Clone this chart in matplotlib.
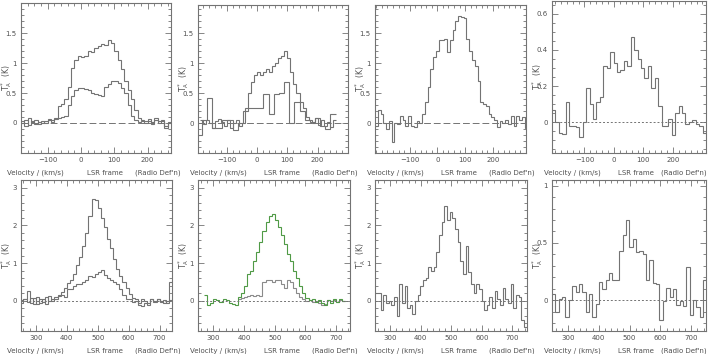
import numpy as np
import matplotlib
matplotlib.use("Agg")
import matplotlib.pyplot as plt
from matplotlib.ticker import MultipleLocator, FuncFormatter

W, H = 709, 354
GREY = '#737373'
TXT = '#505050'
FS = 5

# ---- panel 1 (top row, two spectra, 10 km/s channels)
p1_v0, p1_dv = -180, 10
p1_hi = [0.03, -0.05, 0.08, 0.02, 0.05, -0.02, 0.04, 0.0, 0.06, 0.05, 0.08, 0.28, 0.32, 0.40,
         0.60, 0.92, 1.05, 1.12, 1.10, 1.12, 1.20, 1.18, 1.25, 1.28, 1.32, 1.30, 1.38, 1.33,
         1.20, 1.05, 0.90, 0.70, 0.55, 0.40, 0.22, 0.08, 0.05, 0.03, 0.06, 0.02, 0.08, 0.03,
         0.05, -0.05, 0.02]
p1_lo = [0.0, 0.05, -0.03, 0.03, -0.02, 0.02, 0.0, 0.03, 0.05, 0.02, 0.06, 0.08, 0.10, 0.12,
         0.30, 0.45, 0.55, 0.58, 0.58, 0.56, 0.55, 0.50, 0.48, 0.46, 0.45, 0.60, 0.65, 0.70,
         0.70, 0.66, 0.58, 0.50, 0.30, 0.12, 0.05, 0.02, 0.04, 0.0, 0.03, -0.02, 0.05, 0.0,
         0.04, -0.08, 0.0]

# ---- panel 2
p2_hi_v0, p2_hi_dv = -190, 10
p2_hi = [0.05, -0.02, 0.05, 0.0, -0.08, 0.03, 0.06, 0.02, -0.05, 0.05, -0.08, 0.0, 0.05, -0.05,
         0.0, 0.25, 0.50, 0.68, 0.80, 0.85, 0.80, 0.86, 0.90, 0.85, 0.95, 1.00, 1.08, 1.12,
         1.20, 1.08, 0.86, 0.65, 0.50, 0.35, 0.25, 0.10, 0.05, 0.0, 0.08, -0.03, 0.05, -0.05,
         0.02, -0.06, 0.05]
p2_lo_v0, p2_lo_dv = -200, 17
p2_lo = [-0.20, 0.05, 0.42, -0.08, -0.08, 0.05, 0.05, -0.12, 0.0, 0.20, 0.25, 0.25, 0.25, 0.48,
         0.15, 0.48, 0.50, 0.68, 0.0, 0.35, 0.20, 0.05, 0.02, 0.08, -0.05, -0.10, 0.15]

# ---- panel 3
p3_v0, p3_dv = -225, 10
p3 = [-0.05, 0.22, 0.15, 0.0, -0.10, 0.03, -0.32, 0.0, -0.02, 0.12, 0.05, -0.05, 0.12, -0.05,
      -0.07, 0.03, 0.0, 0.15, 0.35, 0.60, 0.90, 1.10, 1.20, 1.38, 1.38, 1.40, 1.18, 1.38,
      1.55, 1.70, 1.78, 1.77, 1.76, 1.40, 1.20, 1.05, 0.95, 0.70, 0.35, 0.32, 0.28, 0.15,
      0.10, 0.05, -0.07, 0.03, 0.0, 0.05, -0.02, 0.12, -0.05, 0.12, 0.05, 0.10, -0.08]

# ---- panel 4
p4_v0, p4_dv = -210, 11.6
p4 = [0.07, 0.0, -0.06, -0.065, 0.11, -0.02, -0.02, -0.025, -0.08, 0.0, 0.19, 0.10, 0.02,
      0.11, 0.14, 0.31, 0.30, 0.39, 0.33, 0.28, 0.29, 0.34, 0.31, 0.47, 0.40, 0.35, 0.30,
      0.245, 0.31, 0.19, 0.245, 0.09, -0.02, -0.02, 0.02, -0.07, 0.05, 0.09, 0.05, -0.01,
      0.0, 0.015, -0.01, -0.02, -0.06]

# ---- panel 5
p5_v0, p5_dv = 250, 10
p5_hi = [0.02, 0.05, 0.25, -0.05, 0.08, -0.08, 0.05, -0.02, 0.10, 0.0, 0.05, 0.10, 0.15, 0.22,
         0.35, 0.48, 0.55, 0.72, 0.95, 1.15, 1.45, 1.80, 2.25, 2.70, 2.68, 2.45, 2.20, 1.95,
         1.65, 1.40, 1.10, 0.85, 0.65, 0.50, 0.35, 0.18, 0.08, 0.05, -0.05, 0.05, 0.0, -0.06,
         0.04, 0.0, 0.06, -0.04, 0.03, -0.05, 0.02]
p5_lo = [-0.05, 0.05, -0.02, 0.08, -0.08, 0.10, -0.05, 0.05, -0.08, 0.12, 0.0, 0.05, 0.12, 0.15,
         0.10, 0.30, 0.32, 0.40, 0.45, 0.45, 0.50, 0.55, 0.65, 0.62, 0.70, 0.75, 0.82, 0.68,
         0.60, 0.55, 0.50, 0.45, 0.30, 0.15, 0.05, 0.05, -0.02, 0.0, -0.10, -0.15, -0.05,
         -0.12, 0.05, -0.02, 0.06, 0.0, -0.05, 0.0, 0.50]

# ---- panel 6 (green overlaid spectrum plus grey)
p6_hi_v0, p6_hi_dv = 270, 10
p6_hi = [0.15, -0.10, -0.05, 0.05, 0.03, -0.02, 0.05, 0.02, -0.05, -0.08, -0.12, 0.10, 0.20,
         0.40, 0.70, 0.80, 1.05, 1.30, 1.55, 1.85, 2.10, 2.25, 2.30, 2.15, 1.95, 1.75, 1.50,
         1.25, 1.05, 0.80, 0.60, 0.38, 0.20, 0.08, 0.02, 0.05, -0.03, 0.03, -0.05, -0.10,
         0.02, -0.05, 0.05, -0.02, 0.06, 0.0]
p6_lo_v0, p6_lo_dv = 380, 10
p6_lo = [0.05, 0.08, 0.10, 0.12, 0.15, 0.12, 0.15, 0.12, 0.50, 0.55, 0.55, 0.50, 0.55, 0.55,
         0.45, 0.35, 0.55, 0.50, 0.35, 0.20, 0.10, 0.05, 0.0, 0.02, -0.02, 0.0, -0.05, -0.10,
         -0.08, 0.02, 0.0, 0.03, -0.02, 0.02, 0.0]

# ---- panel 7
p7_v0, p7_dv = 251, 8.7
p7 = [0.2, 0.2, -0.25, 0.15, -0.05, 0.0, -0.1, 0.1, -0.4, 0.45, -0.05, 0.4, -0.2, -0.1, -0.35,
      0.0, 0.15, 0.4, 0.55, 0.6, 0.9, 0.8, 0.9, 1.3, 1.75, 2.1, 2.5, 2.15, 2.35, 2.2, 1.9,
      1.55, 1.05, 0.7, 1.45, 0.75, 0.45, 0.2, 0.45, 0.3, 0.0, -0.25, -0.1, 0.1, -0.2, 0.25,
      0.05, -0.1, 0.35, 0.05, -0.05, 0.45, -0.2, 0.15, 0.1, -0.5, -0.7]

# ---- panel 8
p8_v0, p8_dv = 248, 10.9
p8 = [0.05, -0.10, 0.01, 0.03, -0.15, 0.0, 0.12, 0.07, 0.14, 0.07, -0.10, 0.05, -0.15, -0.03,
      0.16, 0.10, 0.18, 0.24, 0.18, 0.18, 0.43, 0.57, 0.70, 0.46, 0.53, 0.42, 0.43, 0.40,
      0.18, 0.35, 0.15, 0.14, -0.17, -0.01, 0.11, 0.03, 0.10, -0.04, -0.01, -0.05, 0.29,
      -0.13, 0.0, -0.06, -0.15, 0.18]

top_xt = [-100, 0, 100, 200]
bot_xt = [300, 400, 500, 600, 700]

# axes boxes in pixels: left, top, right, bottom
panels = [
    dict(box=(21, 3, 171, 153), xlim=(-180, 270), ylim=(-0.5, 2.0), xt=top_xt,
         yt=[0, 0.5, 1, 1.5], ym=0.1, dash=(0, (7, 3))),
    dict(box=(198, 5, 348, 153), xlim=(-195, 300), ylim=(-0.5, 1.97), xt=top_xt,
         yt=[0, 0.5, 1, 1.5], ym=0.1, dash=(0, (7, 3))),
    dict(box=(375, 5, 526, 153), xlim=(-225, 320), ylim=(-0.5, 1.97), xt=top_xt,
         yt=[0, 0.5, 1, 1.5], ym=0.1, dash=(0, (7, 3))),
    dict(box=(552, 1, 706, 153), xlim=(-210, 312), ylim=(-0.17, 0.67), xt=top_xt,
         yt=[0, 0.2, 0.4, 0.6], ym=0.05, dash=(0, (2, 2))),
    dict(box=(21, 180, 172, 331), xlim=(252, 740), ylim=(-0.8, 3.2), xt=bot_xt,
         yt=[0, 1, 2, 3], ym=0.2, dash=(0, (2, 2))),
    dict(box=(198, 180, 350, 331), xlim=(250, 745), ylim=(-0.8, 3.2), xt=bot_xt,
         yt=[0, 1, 2, 3], ym=0.2, dash=(0, (2, 2))),
    dict(box=(375, 180, 527, 331), xlim=(250, 748), ylim=(-0.8, 3.2), xt=bot_xt,
         yt=[0, 1, 2, 3], ym=0.2, dash=(0, (2, 2))),
    dict(box=(552, 180, 706, 331), xlim=(248, 748), ylim=(-0.27, 1.05), xt=bot_xt,
         yt=[0, 0.5, 1], ym=0.1, dash=(0, (2, 2))),
]

spectra = [
    [(p1_v0, p1_dv, p1_hi, GREY), (p1_v0, p1_dv, p1_lo, GREY)],
    [(p2_hi_v0, p2_hi_dv, p2_hi, GREY), (p2_lo_v0, p2_lo_dv, p2_lo, GREY)],
    [(p3_v0, p3_dv, p3, GREY)],
    [(p4_v0, p4_dv, p4, GREY)],
    [(p5_v0, p5_dv, p5_hi, GREY), (p5_v0, p5_dv, p5_lo, GREY)],
    [(p6_lo_v0, p6_lo_dv, p6_lo, '#8a8a8a'), (p6_hi_v0, p6_hi_dv, p6_hi, '#4f9a45')],
    [(p7_v0, p7_dv, p7, GREY)],
    [(p8_v0, p8_dv, p8, GREY)],
]

fmt = FuncFormatter(lambda x, pos: f'{x:g}'.replace('-', '\u2212'))

fig = plt.figure(figsize=(W / 100, H / 100), dpi=100)

for i, (p, specs) in enumerate(zip(panels, spectra)):
    l, t, r, b = p['box']
    ax = fig.add_axes([l / W, 1 - b / H, (r - l) / W, (b - t) / H])
    for v0, dv, vals, col in specs:
        edges = v0 + dv * np.arange(len(vals) + 1)
        ax.stairs(vals, edges, baseline=None, color=col, lw=0.8)
    ax.axhline(0, color=GREY, lw=0.7, ls=p['dash'])
    ax.set_xlim(*p['xlim'])
    ax.set_ylim(*p['ylim'])
    ax.set_xticks(p['xt'])
    ax.set_yticks(p['yt'])
    ax.xaxis.set_minor_locator(MultipleLocator(20))
    ax.yaxis.set_minor_locator(MultipleLocator(p['ym']))
    ax.xaxis.set_major_formatter(fmt)
    ax.yaxis.set_major_formatter(fmt)
    ax.tick_params(which='both', direction='in', top=True, right=True, color=GREY,
                   labelsize=FS, labelcolor=TXT, width=0.6)
    ax.tick_params(which='major', length=4, pad=3)
    ax.tick_params(which='minor', length=2)
    for s in ax.spines.values():
        s.set_color(GREY)
        s.set_linewidth(0.8)
    ax.set_ylabel(r'$\mathregular{T_A^*}$  (K)', fontsize=FS + 0.5, color=TXT, labelpad=0)
    ax.yaxis.set_label_coords(-0.045, 0.5)

    # x axis caption
    ty = 1 - (b + 20) / H
    x0 = l - 14 if i % 4 == 0 else l - 8
    x2 = l + 109 if i % 4 == 3 else l + 114
    fig.text(x0 / W, ty, 'Velocity / (km/s)', fontsize=FS, color=TXT, va='center', ha='left')
    fig.text((l + 84) / W, ty, 'LSR frame', fontsize=FS, color=TXT, va='center', ha='center')
    fig.text(x2 / W, ty, "(Radio Def'n)", fontsize=FS, color=TXT, va='center', ha='left')

fig.savefig('out.png', dpi=100)
